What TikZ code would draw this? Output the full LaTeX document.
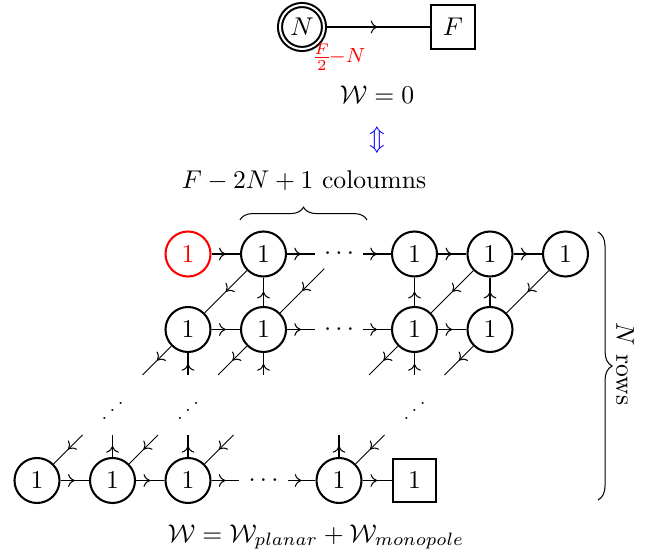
\documentclass[tikz,border=0pt]{standalone}
\usepackage{graphicx}
\usetikzlibrary{decorations.markings,decorations.pathreplacing,arrows.meta}
\newcommand\upx{0.39pt}
\tikzset{
  gnode/.style={circle,draw,thick,minimum size=45*\upx,inner sep=0pt},
  fnode/.style={rectangle,draw,thick,minimum size=44*\upx,inner sep=0pt},
  midarrow/.style={postaction={decorate},decoration={markings,mark=at position 0.5 with {\arrow{Computer Modern Rightarrow[length=2.6pt,width=5pt]}}}},
  idots/.style={font=\scriptsize,inner sep=0pt},
  bracedeco/.style={decorate,decoration={brace,amplitude=#1}},
}
\begin{document}
\begin{tikzpicture}[x=\upx,y=-\upx]
\useasboundingbox (0,0) rectangle (668,556);
% top quiver
\node[gnode,double,double distance=2*\upx,minimum size=44*\upx] (N) at (302,27) {$N$};
\node[fnode] (F) at (453,27) {$F$};
\draw[midarrow] (N) -- (F);
\node[red,font=\footnotesize] (lab) at (340,57) {\nulldelimiterspace=0pt$\frac{F}{2}{-}N$};
\node (W0) at (377,95) {$\mathcal{W}=0$};
\node[blue] (eq) at (377,140) {$\Updownarrow$};
\node (cols) at (304,181) {$F-2N+1$ coloumns};
\coordinate (bl) at (240,220);
\coordinate (br) at (367,220);
\draw[bracedeco=5pt] (bl) -- (br);
\coordinate (rt) at (598,232);
\coordinate (rb) at (598,500);
\draw[bracedeco=5.5pt] (rt) -- (rb);
\node[rotate=-90] (rows) at (625,364) {$N$ rows};
% row 1
\node[gnode,red] (R) at (188,254) {$1$};
\node[gnode] (a1) at (263.5,254) {$1$};
\node (d1) at (339,254) {$\cdots$};
\node[gnode] (a2) at (414.5,254) {$1$};
\node[gnode] (a3) at (490,254) {$1$};
\node[gnode] (a4) at (565.5,254) {$1$};
% row 2
\node[gnode] (b1) at (188,329.5) {$1$};
\node[gnode] (b2) at (263.5,329.5) {$1$};
\node (d2) at (339,329.5) {$\cdots$};
\node[gnode] (b3) at (414.5,329.5) {$1$};
\node[gnode] (b4) at (490,329.5) {$1$};
% row 3 dots
\node[idots] (i1) at (112.5,403) {\reflectbox{$\ddots$}};
\node[idots] (i2) at (188,403) {\reflectbox{$\ddots$}};
\node[idots] (i3) at (414.5,403) {\reflectbox{$\ddots$}};
% row N
\node[gnode] (c1) at (37,480.5) {$1$};
\node[gnode] (c2) at (112.5,480.5) {$1$};
\node[gnode] (c3) at (188,480.5) {$1$};
\node (d4) at (263.5,480.5) {$\cdots$};
\node[gnode] (c4) at (339,480.5) {$1$};
\node[fnode,minimum size=43*\upx] (sq) at (414.5,480.5) {$1$};
% stub ends
\coordinate (e1d) at (142.5,375);
\coordinate (e1v) at (188,375);
\coordinate (e2d) at (218,375);
\coordinate (e2v) at (263.5,375);
\coordinate (e3d) at (369,375);
\coordinate (e3v) at (414.5,375);
\coordinate (e4d) at (444.5,375);
\coordinate (f1d) at (82.5,435);
\coordinate (f2v) at (112.5,435);
\coordinate (f2d) at (158,435);
\coordinate (f3v) at (188,435);
\coordinate (f3d) at (233.5,435);
\coordinate (f4v) at (339,435);
\coordinate (f4d) at (384.5,435);
% horizontal
\draw[midarrow] (R) -- (a1);
\draw[midarrow] (a1) -- (d1);
\draw[midarrow] (d1) -- (a2);
\draw[midarrow] (a2) -- (a3);
\draw[midarrow] (a3) -- (a4);
\draw[midarrow] (b1) -- (b2);
\draw[midarrow] (b2) -- (d2);
\draw[midarrow] (d2) -- (b3);
\draw[midarrow] (b3) -- (b4);
\draw[midarrow] (c1) -- (c2);
\draw[midarrow] (c2) -- (c3);
\draw[midarrow] (c3) -- (d4);
\draw[midarrow] (d4) -- (c4);
\draw[midarrow] (c4) -- (sq);
% vertical
\draw[midarrow] (b2) -- (a1);
\draw[midarrow] (b3) -- (a2);
\draw[midarrow] (b4) -- (a3);
% diagonal
\draw[midarrow] (a1) -- (b1);
\draw[midarrow] (d1) -- (b2);
\draw[midarrow] (a3) -- (b3);
\draw[midarrow] (a4) -- (b4);
% stubs below row 2
\draw[midarrow] (b1) -- (e1d);
\draw[midarrow] (e1v) -- (b1);
\draw[midarrow] (b2) -- (e2d);
\draw[midarrow] (e2v) -- (b2);
\draw[midarrow] (b3) -- (e3d);
\draw[midarrow] (e3v) -- (b3);
\draw[midarrow] (b4) -- (e4d);
% stubs above row N
\draw[midarrow] (f1d) -- (c1);
\draw[midarrow] (c2) -- (f2v);
\draw[midarrow] (f2d) -- (c2);
\draw[midarrow] (c3) -- (f3v);
\draw[midarrow] (f3d) -- (c3);
\draw[midarrow] (c4) -- (f4v);
\draw[midarrow] (f4d) -- (c4);
\node (Wf) at (316,537) {$\mathcal{W}=\mathcal{W}_{planar}+\mathcal{W}_{monopole}$};
\end{tikzpicture}
\end{document}
